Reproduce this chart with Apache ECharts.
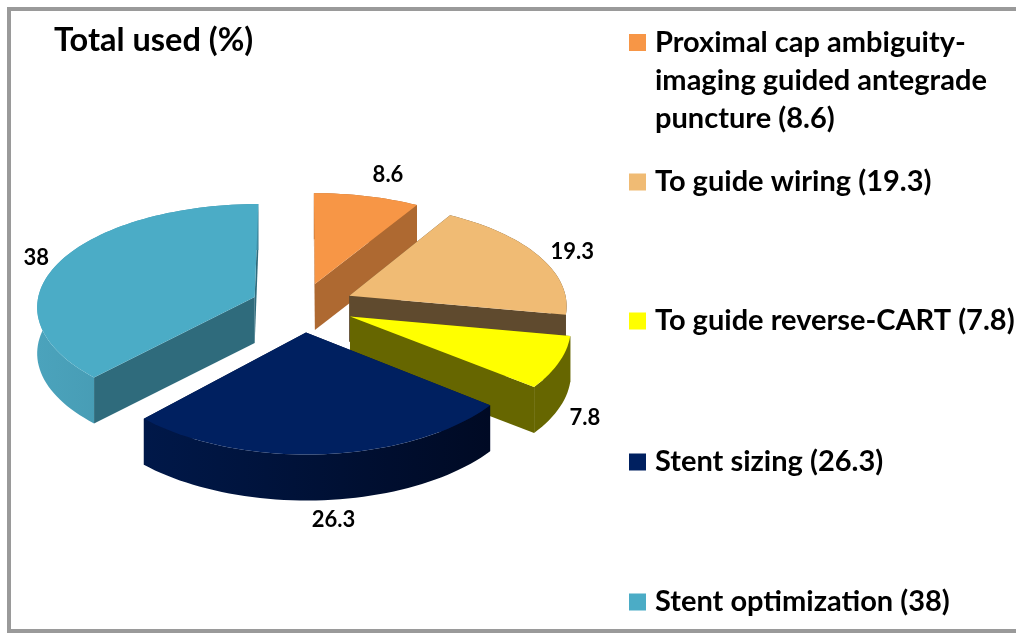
<!DOCTYPE html>
<html>
<head>
<meta charset="utf-8">
<style>html,body{margin:0;padding:0;background:#fff}#c{width:1016px;height:633px}</style>
<script src="https://cdn.jsdelivr.net/npm/echarts@6/dist/echarts.min.js"></script>
</head>
<body>
<div id="c"></div>
<script>
const categories = ['Proximal cap ambiguity-\nimaging guided antegrade\npuncture (8.6)', 'To guide wiring (19.3)', 'To guide reverse-CART (7.8)', 'Stent sizing (26.3)', 'Stent optimization (38)'];
const values = [8.6, 19.3, 7.8, 26.3, 38];
const valueLabels = ['8.6', '19.3', '7.8', '26.3', '38'];
const titleText = 'Total used (%)';

const topColors = ['#F79646', '#F0BB74', '#FFFF00', '#002060', '#4BACC6'];
const radialColors = ['#AE6931', '#5F4A2E', '#666600', '#001540', '#2F6B7C'];
const arcColors = [['#AE6931', '#AE6931'], ['#5F4A2E', '#5F4A2E'], ['#666600', '#666600'], ['#001849', '#000a24'], ['#4BA3BC', '#3E8CA3']];
const legendTops = [24, 163, 302, 443, 583];
const legendHeights = [114, 38, 38, 38, 38];
const paintOrder = [0, 1, 4, 2, 3];
const labelShift = [[12, 4], [3, 7], [-5, 22], [7, -6], [7, 7]];
const explodeBy = [0.225, 0.24, 0.24, 0.25, 0.235];

const FONT = 'Lato, Carlito, "Open Sans", sans-serif';
const CX = 302, CY = 306, RX = 218, B = 104, C = 0.1, XP = 0.083, DEPTH = 46;
const total = values.reduce((a, b) => a + b, 0);

function project(u, v) {
  return [CX + u * RX / (1 + XP * v), CY - v * B / (1 + C * v)];
}
function sliceParts(start, sweep, explode) {
  const mid = start + sweep / 2;
  const ox = Math.sin(mid) * explode, oy = Math.cos(mid) * explode;
  const apex = project(ox, oy);
  const rim = [];
  const steps = Math.max(8, Math.round(sweep * 30));
  for (let i = 0; i <= steps; i++) {
    const a = start + sweep * i / steps;
    rim.push(project(ox + Math.sin(a), oy + Math.cos(a)));
  }
  return { mid, ox, oy, apex, rim };
}
const down = p => [p[0], p[1] + DEPTH];

function makeRender(idx, startAngle) {
  return function (params, api) {
    const sweep = api.value(0) / total * Math.PI * 2;
    const s = sliceParts(startAngle, sweep, explodeBy[idx]);
    const first = s.rim[0], last = s.rim[s.rim.length - 1];
    const poly = (pts, fill) => ({ type: 'polygon', shape: { points: pts }, style: { fill: fill, stroke: null } });
    const arcFill = { type: 'linear', x: 0, y: 0, x2: 1, y2: 0, colorStops: [{ offset: 0, color: arcColors[idx][0] }, { offset: 1, color: arcColors[idx][1] }] };
    const um = Math.sin(s.mid), vm = Math.cos(s.mid);
    const lp = project(s.ox + um * 1.0, s.oy + vm * 1.0);
    const lx = lp[0] + um * 34 + labelShift[idx][0];
    const ly = lp[1] - vm * 26 + (vm < 0 ? DEPTH * Math.min(1, -vm * 1.2) : 0) + labelShift[idx][1];
    return {
      type: 'group',
      children: [
        poly([s.apex, first, down(first), down(s.apex)], radialColors[idx]),
        poly([s.apex, last, down(last), down(s.apex)], radialColors[idx]),
        poly(s.rim.concat(s.rim.slice().reverse().map(down)), arcFill),
        poly([s.apex].concat(s.rim), topColors[idx]),
        { type: 'text', style: { text: valueLabels[idx], x: lx, y: ly, align: 'center', verticalAlign: 'middle', font: 'bold 22px ' + FONT, fill: '#000' } }
      ]
    };
  };
}

let acc = 0;
const starts = values.map(v => { const s = acc / total * Math.PI * 2; acc += v; return s; });

const iconPath = h => 'path://M0 0L0 0Z' + 'M0 ' + ((h - 17) > 21 ? 10 : (h - 17) / 2) + 'h17v17h-17Z' + 'M0 ' + h + 'L0 ' + h + 'Z';

const option = {
  animation: false,
  backgroundColor: '#fff',
  title: { text: titleText, left: 54, top: 24, padding: 0, textStyle: { fontFamily: FONT, fontWeight: 'bold', fontSize: 32.5, color: '#000' } },
  legend: categories.map((name, i) => ({
    data: [{ name: name, icon: iconPath(legendHeights[i]), itemStyle: { color: topColors[i] } }],
    left: 629,
    top: legendTops[i],
    padding: 0,
    selectedMode: false,
    itemWidth: 17,
    itemHeight: legendHeights[i],
    itemGap: 0,
    textStyle: { fontFamily: FONT, fontWeight: 'bold', fontSize: 29, lineHeight: 38, color: '#000', padding: [0, 0, 0, 4] }
  })),
  graphic: [{
    type: 'polyline', silent: true, z: -1,
    shape: { points: [[1016, 9], [9, 9], [9, 631], [1016, 631]] },
    style: { stroke: '#9A9A9A', lineWidth: 4, fill: null }
  }],
  series: paintOrder.map((i, order) => ({
    type: 'custom',
    name: categories[i],
    coordinateSystem: 'none',
    z: 2 + order,
    clip: false,
    silent: true,
    itemStyle: { color: topColors[i] },
    data: [[values[i]]],
    renderItem: makeRender(i, starts[i])
  }))
};
echarts.init(document.getElementById('c'), null, { renderer: 'canvas' }).setOption(option);
</script>
</body>
</html>
